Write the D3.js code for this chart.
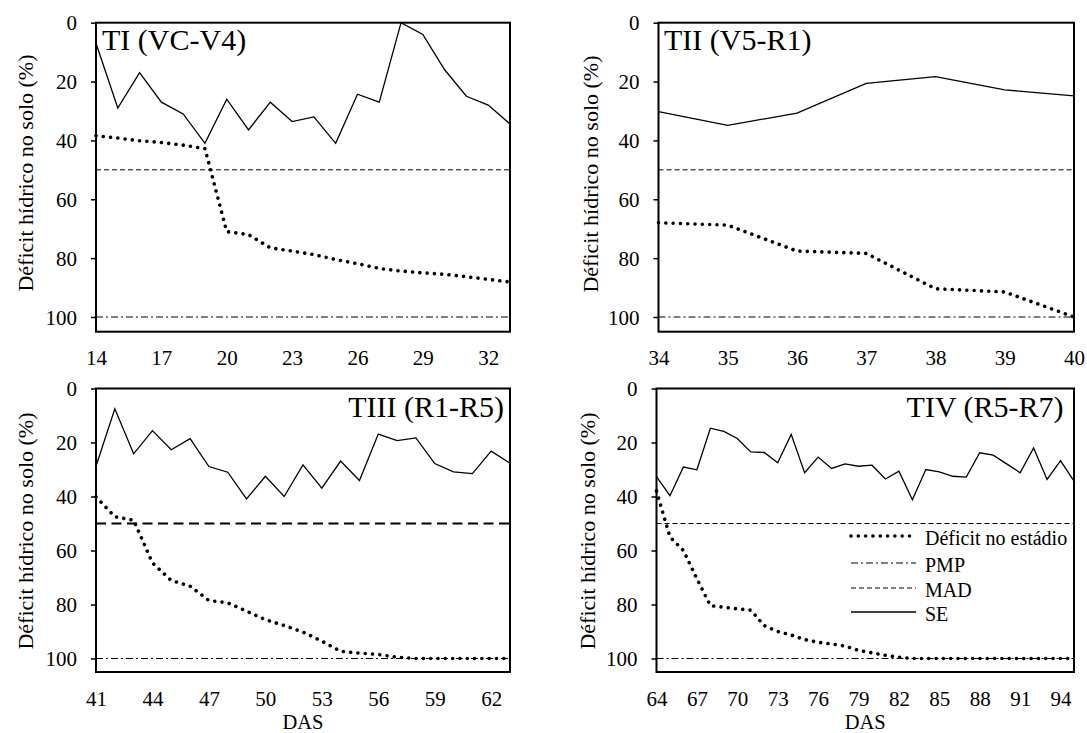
<!DOCTYPE html>
<html>
<head>
<meta charset="utf-8">
<script src="https://cdn.jsdelivr.net/npm/d3@7"></script>
<style>
  body { margin: 0; background: #fff; }
  svg { display: block; font-family: "Liberation Serif", "Times New Roman", serif; }
  svg text { font-family: "Liberation Serif", "Times New Roman", serif; fill: #000; }
</style>
</head>
<body>
<svg id="chart" width="1087" height="733"></svg>
<script>
// Days after sowing (DAS) for each stress period
const daysT1 = [14, 15, 16, 17, 18, 19, 20, 21, 22, 23, 24, 25, 26, 27, 28, 29, 30, 31, 32, 33];
const daysT2 = [34, 35, 36, 37, 38, 39, 40];
const daysT3 = [41, 42, 43, 44, 45, 46, 47, 48, 49, 50, 51, 52, 53, 54, 55, 56, 57, 58, 59, 60, 61, 62, 63];
const daysT4 = [64, 65, 66, 67, 68, 69, 70, 71, 72, 73, 74, 75, 76, 77, 78, 79, 80, 81, 82, 83, 84, 85, 86, 87, 88, 89, 90, 91, 92, 93, 94, 95];

// SE: soil water deficit without stress (%)
const seT1 = [7, 29, 17, 27, 31, 41, 26, 36.4, 27, 33.6, 32, 41, 24.3, 27, 0, 4, 16, 25, 28, 34.4];
const seT2 = [30.2, 34.9, 30.7, 20.6, 18.3, 22.8, 24.9];
const seT3 = [28.8, 7.5, 24.2, 15.6, 22.7, 18.6, 28.9, 31, 40.9, 32.5, 40, 28.3, 36.9, 26.9, 34.1, 16.9, 19.3, 18.3, 27.8, 30.9, 31.5, 23.2, 27.7];
const seT4 = [32.6, 39.7, 29.1, 30.1, 14.7, 15.9, 18.5, 23.5, 23.7, 27.5, 17, 31.2, 25.4, 29.6, 27.9, 28.8, 28.4, 33.5, 30.6, 41.2, 30, 30.9, 32.5, 32.8, 23.8, 24.7, 27.9, 31.2, 22, 33.7, 26.7, 34.3];

// Déficit no estádio: soil water deficit under stage stress (%)
const defT1 = [38.4, 39.2, 40.1, 40.7, 41.6, 42.8, 71, 72, 76.5, 77.6, 78.8, 80.5, 81.9, 83.5, 84.4, 85, 85.5, 86.3, 87.2, 88.1];
const defT2 = [68, 68.8, 77.6, 78.4, 90.4, 91.5, 100];
const defT3 = [40.1, 47.5, 48.8, 64.6, 71.1, 73.2, 78.5, 79.4, 82.5, 85.6, 87.8, 90.2, 93.6, 97.3, 98, 98.5, 99.5, 100, 100, 100, 100, 100, 100];
const defT4 = [38, 55, 60, 70.5, 80.4, 81, 81.6, 82.1, 87.8, 90, 91.3, 93, 94, 94.6, 95.4, 97, 97.9, 98.8, 99.5, 100, 100, 100, 100, 100, 100, 100, 100, 100, 100, 100, 100, 100];

// Reference levels (%)
const madLevel = 50;   // MAD
const pmpLevel = 100;  // PMP

// Axis tick labels
const xTicksT1 = [14, 17, 20, 23, 26, 29, 32];
const xTicksT2 = [34, 35, 36, 37, 38, 39, 40];
const xTicksT3 = [41, 44, 47, 50, 53, 56, 59, 62];
const xTicksT4 = [64, 67, 70, 73, 76, 79, 82, 85, 88, 91, 94];
const yTicks = [0, 20, 40, 60, 80, 100];
const yMax = 105;

const titles = ["TI (VC-V4)", "TII (V5-R1)", "TIII (R1-R5)", "TIV (R5-R7)"];
const yTitle = "Déficit hídrico no solo (%)";
const xTitle = "DAS";
const legendLabels = ["Déficit no estádio", "PMP", "MAD", "SE"];

const FONT = '"Liberation Serif", "Times New Roman", serif';

// Line styles
const styleDef = { width: 3.6, dash: "0.01 7.3", cap: "round" };
const stylePMP = { width: 1, dash: "7 3 2 3" };
const styleMADthin = { width: 1, dash: "5 3" };
const styleMADbold = { width: 2, dash: "10 5.5" };
const styleSE = { width: 1.3 };

const panels = [
  { days: daysT1, se: seT1, def: defT1, ticks: xTicksT1, title: titles[0],
    box: { x0: 96, x1: 510, y0: 22.7, y1: 331.7 },
    titlePos: { x: 102, y: 50, anchor: "start" }, yTitlePos: { x: 33, y: 173 },
    mad: styleMADthin, das: false, legend: false },
  { days: daysT2, se: seT2, def: defT2, ticks: xTicksT2, title: titles[1],
    box: { x0: 658.5, x1: 1074, y0: 22.7, y1: 331.7 },
    titlePos: { x: 664, y: 50, anchor: "start" }, yTitlePos: { x: 598, y: 174 },
    mad: styleMADthin, das: false, legend: false },
  { days: daysT3, se: seT3, def: defT3, ticks: xTicksT3, title: titles[2],
    box: { x0: 96, x1: 510, y0: 388.5, y1: 672 },
    titlePos: { x: 504, y: 417, anchor: "end" }, yTitlePos: { x: 33, y: 531 },
    mad: styleMADbold, das: true, legend: false },
  { days: daysT4, se: seT4, def: defT4, ticks: xTicksT4, title: titles[3],
    box: { x0: 656.5, x1: 1074, y0: 388.5, y1: 672 },
    titlePos: { x: 1063.5, y: 417, anchor: "end" }, yTitlePos: { x: 595, y: 531 },
    mad: styleMADthin, das: true, legend: true }
];

const svg = d3.select("#chart");

function applyStyle(sel, s) {
  sel.attr("fill", "none").attr("stroke", "#000").attr("stroke-width", s.width);
  if (s.dash) sel.attr("stroke-dasharray", s.dash);
  if (s.cap) sel.attr("stroke-linecap", s.cap);
  return sel;
}

panels.forEach(p => {
  const b = p.box;
  const x = d3.scaleLinear().domain([p.days[0], p.days[p.days.length - 1]]).range([b.x0, b.x1]);
  const y = d3.scaleLinear().domain([0, yMax]).range([b.y0, b.y1]);
  const g = svg.append("g");

  // reference lines
  applyStyle(g.append("line"), p.mad)
    .attr("x1", b.x0).attr("x2", b.x1).attr("y1", y(madLevel)).attr("y2", y(madLevel));
  applyStyle(g.append("line"), stylePMP)
    .attr("x1", b.x0).attr("x2", b.x1).attr("y1", y(pmpLevel)).attr("y2", y(pmpLevel));

  const line = d3.line().x((d, i) => x(p.days[i])).y(d => y(d));
  applyStyle(g.append("path").datum(p.se), styleSE).attr("d", line).attr("stroke-linejoin", "miter");
  applyStyle(g.append("path").datum(p.def), styleDef).attr("d", line);

  // frame
  g.append("rect")
    .attr("x", b.x0).attr("y", b.y0)
    .attr("width", b.x1 - b.x0).attr("height", b.y1 - b.y0)
    .attr("fill", "none").attr("stroke", "#000").attr("stroke-width", 2);

  // y axis
  const ya = g.append("g").attr("transform", `translate(${b.x0},0)`)
    .call(d3.axisLeft(y).tickValues(yTicks).tickFormat(d3.format("d")).tickSize(5).tickPadding(14));
  ya.select(".domain").remove();
  ya.attr("font-family", FONT).attr("font-size", 21);
  ya.selectAll(".tick line").attr("stroke", "#000").attr("stroke-width", 1.5);
  ya.selectAll("text").attr("dy", "0.34em");

  // x axis
  const xa = g.append("g").attr("transform", `translate(0,${b.y1})`)
    .call(d3.axisBottom(x).tickValues(p.ticks).tickFormat(d3.format("d")).tickSize(0));
  xa.select(".domain").remove();
  xa.attr("font-family", FONT).attr("font-size", 21);
  xa.selectAll("text").attr("dy", null).attr("y", 33.5);

  // titles
  g.append("text").attr("x", p.titlePos.x).attr("y", p.titlePos.y)
    .attr("text-anchor", p.titlePos.anchor).attr("font-size", 30).text(p.title);
  g.append("text")
    .attr("transform", `translate(${p.yTitlePos.x},${p.yTitlePos.y}) rotate(-90)`)
    .attr("text-anchor", "middle").attr("font-size", 22).text(yTitle);
  if (p.das) {
    g.append("text").attr("x", (b.x0 + b.x1) / 2).attr("y", 728.5)
      .attr("text-anchor", "middle").attr("font-size", 20.5).text(xTitle);
  }

  if (p.legend) {
    const styles = [styleDef, stylePMP, styleMADthin, styleSE];
    const rowY = [536, 563, 588, 612];
    const lg = g.append("g");
    legendLabels.forEach((lab, i) => {
      applyStyle(lg.append("line"), styles[i])
        .attr("x1", 851).attr("x2", 916).attr("y1", rowY[i]).attr("y2", rowY[i]);
      lg.append("text").attr("x", 925).attr("y", rowY[i] + 8.5)
        .attr("font-size", 20).text(lab);
    });
  }
});

svg.selectAll("text").style("font-family", FONT).style("fill", "#000");
</script>
</body>
</html>
